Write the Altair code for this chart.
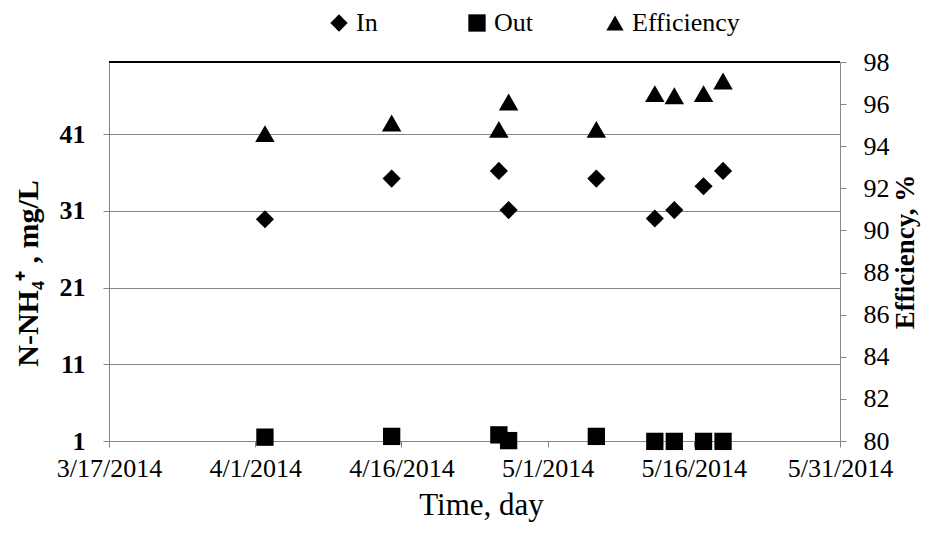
import altair as alt
import pandas as pd

# ---- data ----
dates = ["2014-04-02", "2014-04-15", "2014-04-26", "2014-04-27", "2014-05-06",
         "2014-05-12", "2014-05-14", "2014-05-17", "2014-05-19"]
n_in = [29.9, 35.2, 36.2, 31.1, 35.2, 30.0, 31.1, 34.2, 36.2]
n_out = [1.5, 1.6, 1.8, 1.05, 1.6, 0.95, 0.95, 0.95, 0.95]
efficiency = [94.6, 95.1, 94.8, 96.1, 94.8, 96.5, 96.4, 96.5, 97.1]
series_names = ["In", "Out", "Efficiency"]
series_shapes = ["diamond", "square", "triangle-up"]
x_tick_dates = ["2014-03-17", "2014-04-01", "2014-04-16", "2014-05-01",
                "2014-05-16", "2014-05-31"]
left_ticks = [1, 11, 21, 31, 41]
right_ticks = [80, 82, 84, 86, 88, 90, 92, 94, 96, 98]

df_in = pd.DataFrame({"date": dates, "value": n_in, "series": "In"})
df_out = pd.DataFrame({"date": dates, "value": n_out, "series": "Out"})
df_eff = pd.DataFrame({"date": dates, "value": efficiency, "series": "Efficiency"})

def ms(s):
    return int(pd.Timestamp(s, tz="UTC").value // 10**6)

x_ticks_ms = [ms(s) for s in x_tick_dates]

W, H = 731, 379
FONT = "Liberation Serif"
GRAY = "#868686"
FS = 26

x_enc = alt.X(
    "date:T",
    scale=alt.Scale(type="utc", domain=[x_ticks_ms[0], x_ticks_ms[-1]], nice=False),
    axis=alt.Axis(
        title="Time, day", values=x_ticks_ms,
        labelExpr="utcFormat(datum.value, '%-m/%-d/%Y')",
        labelFlush=False, labelOverlap=False,
        grid=False, domainColor=GRAY, tickColor=GRAY, tickSize=6,
        labelFont=FONT, labelFontSize=FS, labelColor="black", labelPadding=8,
        titleFont=FONT, titleFontSize=31, titleFontWeight="normal", titleColor="black",
        titlePadding=9, titleX=372,
    ),
)

shape_enc = alt.Shape(
    "series:N",
    scale=alt.Scale(domain=series_names, range=series_shapes),
    legend=alt.Legend(
        title=None, orient="none", direction="horizontal", columns=3,
        legendX=217, legendY=-52, gridAlign="all", columnPadding=0,
        symbolSize=300, symbolFillColor="black", symbolStrokeWidth=0,
        labelFont=FONT, labelFontSize=FS, labelColor="black",
        labelOffset=4, padding=0,
    ),
)

left_y = alt.Y(
    "value:Q",
    scale=alt.Scale(domain=[1, 50.4], nice=False, zero=False),
    axis=alt.Axis(
        title="N-NH₄⁺ , mg/L", values=left_ticks, orient="left",
        grid=True, gridColor=GRAY, gridWidth=1.2,
        domainColor=GRAY, tickColor=GRAY, tickSize=6,
        labelFont=FONT, labelFontSize=FS, labelFontWeight="bold", labelColor="black",
        labelPadding=18,
        titleFont=FONT, titleFontSize=30, titleFontWeight="bold", titleColor="black",
        titlePadding=16, titleY=211,
    ),
)

pt = dict(filled=True, color="black", opacity=1, strokeWidth=0)

in_layer = alt.Chart(df_in).mark_point(size=330, **pt).encode(
    x=x_enc, y=left_y, shape=shape_enc)
out_layer = alt.Chart(df_out).mark_point(size=300, **pt).encode(
    x=x_enc, y=left_y, shape=shape_enc)

right = alt.Chart(df_eff).mark_point(size=380, **pt).encode(
    x=x_enc,
    y=alt.Y(
        "value:Q",
        scale=alt.Scale(domain=[80, 98], nice=False, zero=False),
        axis=alt.Axis(
            title="Efficiency, %", values=right_ticks, orient="right",
            grid=False, domainColor=GRAY, tickColor=GRAY, tickSize=6,
            labelFont=FONT, labelFontSize=FS, labelColor="black", labelPadding=17,
            titleFont=FONT, titleFontSize=27, titleFontWeight="bold", titleColor="black",
            titleAngle=270, titleBaseline="top", titlePadding=3,
        ),
    ),
    shape=shape_enc,
)

top_border = alt.Chart(df_in).mark_rule(color="black", strokeWidth=2).encode(
    x=alt.value(0), x2=alt.value(W), y=alt.value(0)
)

left = alt.layer(in_layer, out_layer)

chart = alt.layer(left, right, top_border).resolve_scale(y="independent").properties(
    width=W, height=H,
    autosize=alt.AutoSizeParams(type="none"),
    padding={"left": 101, "top": 54, "right": 86, "bottom": 91},
).configure_view(stroke=None).configure(background="white")

chart.save("out.html", embed_options={"renderer": "svg", "actions": False})
